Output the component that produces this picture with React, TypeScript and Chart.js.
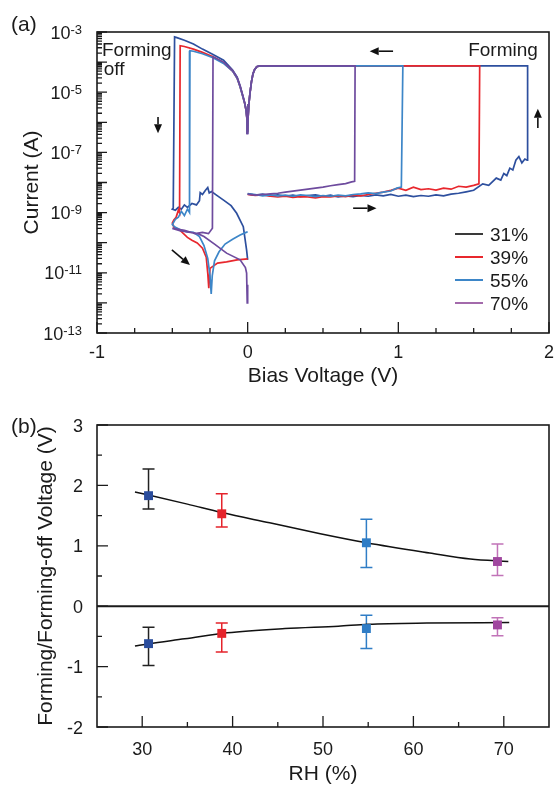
import React, { useEffect, useRef } from "react";
import { Chart, registerables } from "chart.js";

Chart.register(...registerables);

const FONT = "'Liberation Sans', Arial, Helvetica, sans-serif";
const INK = "#1b1b1b";

// ---------------- Panel (a): I–V sweeps ----------------
const humidityLabels = ["31%", "39%", "55%", "70%"];
const curveColors = ["#2d4f9e", "#e8272d", "#3d86c8", "#6e4b9e"];
const legendColors = ["#3a3a3a", "#e8272d", "#3d86c8", "#a36aab"];
const drawOrder = [3, 2, 1, 0];

const v31 = [
  0, 0.05, 0.1, 0.15, 0.2, 0.25, 0.3, 0.35, 0.4, 0.45, 0.5, 0.55, 0.6, 0.65, 0.7, 0.75, 0.8, 0.85, 0.9, 0.95,
  1.0, 1.05, 1.1, 1.15, 1.2, 1.25, 1.3, 1.35, 1.4, 1.45, 1.5, 1.56, 1.6, 1.65, 1.68, 1.7, 1.72, 1.74, 1.76, 1.78,
  1.8, 1.82, 1.84, 1.855,
  1.858, 1.2, 0.6, 0.08, 0.06, 0.045, 0.035, 0.025, 0.015, 0.008, 0.003, 0.0, -0.004, -0.01, -0.02, -0.03, -0.05,
  -0.07, -0.1, -0.16, -0.23, -0.3, -0.36, -0.42, -0.47, -0.485,
  -0.494, -0.5, -0.48, -0.46, -0.44, -0.42, -0.4, -0.37, -0.34, -0.32, -0.315, -0.3, -0.28, -0.265, -0.255, -0.24,
  -0.2, -0.16, -0.11, -0.073, -0.029, -0.007, 0.0,
];
const i31 = [
  4.2e-9, 3.8e-9, 4.1e-9, 3.6e-9, 3.9e-9, 3.5e-9, 3.8e-9, 3.4e-9, 3.7e-9, 3.9e-9, 3.5e-9, 3.8e-9, 3.3e-9, 3.6e-9,
  3.4e-9, 3.7e-9, 3.5e-9, 3.9e-9, 3.6e-9, 4.0e-9, 3.5e-9, 3.8e-9, 3.4e-9, 3.7e-9, 3.5e-9, 3.9e-9, 3.6e-9, 4.1e-9,
  4.4e-9, 4.9e-9, 5.5e-9, 9.0e-9, 8.0e-9, 1.4e-8, 1.2e-8, 2.0e-8, 1.7e-8, 3.0e-8, 2.6e-8, 5.5e-8, 7.3e-8, 4.5e-8,
  6.0e-8, 5.5e-8,
  7.5e-5, 7.5e-5, 7.5e-5, 7.5e-5, 7.0e-5, 5.5e-5, 4.0e-5, 2.2e-5, 9.0e-6, 4.0e-6, 1.5e-6, 4.4e-7, 1.2e-6, 2.5e-6,
  4.5e-6, 7.0e-6, 1.6e-5, 3.2e-5, 5.5e-5, 1.15e-4, 1.8e-4, 2.7e-4, 4.0e-4, 5.3e-4, 6.5e-4, 6.9e-4,
  1.4e-9, 1.3e-9, 1.2e-9, 1.5e-9, 1.3e-9, 1.8e-9, 1.5e-9, 2.0e-9, 1.8e-9, 2.5e-9, 4.6e-9, 4.0e-9, 5.5e-9, 6.8e-9,
  4.5e-9, 5.0e-9, 3.6e-9, 2.6e-9, 1.7e-9, 9.5e-10, 3.4e-10, 5.7e-11, 2.7e-11,
];

const v39 = [
  0, 0.05, 0.1, 0.15, 0.2, 0.25, 0.3, 0.35, 0.4, 0.45, 0.5, 0.55, 0.6, 0.65, 0.7, 0.75, 0.8, 0.85, 0.9, 0.95,
  1.0, 1.05, 1.1, 1.15, 1.2, 1.25, 1.3, 1.35, 1.4, 1.45, 1.5, 1.535,
  1.54, 1.0, 0.5, 0.08, 0.06, 0.045, 0.035, 0.025, 0.015, 0.008, 0.003, 0.0, -0.004, -0.01, -0.02, -0.03, -0.05,
  -0.07, -0.1, -0.16, -0.23, -0.3, -0.36, -0.42, -0.448,
  -0.452, -0.46, -0.475, -0.49, -0.5, -0.49, -0.45, -0.4, -0.37, -0.335, -0.3, -0.275, -0.265, -0.258, -0.25,
  -0.2, -0.14, -0.07, 0.0,
];
const i39 = [
  4.0e-9, 3.7e-9, 3.9e-9, 3.5e-9, 3.3e-9, 3.5e-9, 3.2e-9, 3.4e-9, 3.3e-9, 3.1e-9, 3.4e-9, 3.3e-9, 3.6e-9, 3.4e-9,
  3.8e-9, 3.6e-9, 4.0e-9, 4.4e-9, 4.8e-9, 5.5e-9, 6.5e-9, 5.5e-9, 7.0e-9, 5.8e-9, 6.2e-9, 5.6e-9, 6.5e-9, 6.0e-9,
  7.5e-9, 7.0e-9, 8.0e-9, 9.0e-9,
  7.5e-5, 7.5e-5, 7.5e-5, 7.5e-5, 7.0e-5, 5.5e-5, 4.0e-5, 2.2e-5, 9.0e-6, 4.0e-6, 1.5e-6, 5.0e-7, 1.2e-6, 2.4e-6,
  4.3e-6, 6.5e-6, 1.5e-5, 2.9e-5, 5.0e-5, 9.5e-5, 1.5e-4, 2.1e-4, 2.7e-4, 3.3e-4, 3.5e-4,
  9.8e-10, 1.2e-9, 7.0e-10, 5.7e-10, 4.5e-10, 3.3e-10, 2.6e-10, 1.5e-10, 1.2e-10, 9.8e-11, 6.6e-11, 3.3e-11,
  9.8e-12, 3.1e-12, 1.4e-11, 2.1e-11, 2.3e-11, 2.7e-11, 2.9e-11,
];

const v55 = [
  0, 0.05, 0.1, 0.15, 0.2, 0.25, 0.3, 0.35, 0.4, 0.45, 0.5, 0.55, 0.6, 0.65, 0.7, 0.75, 0.8, 0.85, 0.9, 0.95,
  0.99, 1.02,
  1.03, 0.5, 0.08, 0.06, 0.045, 0.035, 0.025, 0.015, 0.008, 0.003, 0.0, -0.004, -0.01, -0.02, -0.03, -0.05, -0.07,
  -0.1, -0.16, -0.23, -0.3, -0.36, -0.383,
  -0.386, -0.4, -0.42, -0.44, -0.46, -0.48, -0.5, -0.483, -0.44, -0.4, -0.36, -0.32, -0.29, -0.265, -0.25, -0.242,
  -0.235, -0.22, -0.19, -0.15, -0.1, -0.05, -0.01, 0.0,
];
const i55 = [
  4.3e-9, 4.0e-9, 3.6e-9, 3.9e-9, 3.6e-9, 3.8e-9, 3.5e-9, 3.9e-9, 3.7e-9, 3.4e-9, 3.7e-9, 3.5e-9, 3.8e-9, 3.6e-9,
  4.0e-9, 4.2e-9, 4.5e-9, 4.3e-9, 4.8e-9, 5.2e-9, 6.5e-9, 7.0e-9,
  7.5e-5, 7.5e-5, 7.5e-5, 7.0e-5, 5.5e-5, 4.0e-5, 2.2e-5, 9.0e-6, 4.0e-6, 1.5e-6, 5.0e-7, 1.2e-6, 2.4e-6, 4.3e-6,
  6.5e-6, 1.5e-5, 2.9e-5, 5.0e-5, 9.0e-5, 1.4e-4, 1.9e-4, 2.3e-4, 2.4e-4,
  1.0e-9, 1.3e-9, 8.0e-10, 1.1e-9, 7.0e-10, 6.0e-10, 4.0e-10, 3.3e-10, 2.6e-10, 2.3e-10, 2.2e-10, 1.6e-10, 8.0e-11,
  3.0e-11, 8.0e-12, 2.0e-12, 8.0e-12, 2.5e-11, 5.0e-11, 9.0e-11, 1.3e-10, 1.8e-10, 2.2e-10, 2.3e-10,
];

const v70 = [
  0, 0.05, 0.1, 0.15, 0.2, 0.25, 0.3, 0.35, 0.4, 0.45, 0.5, 0.55, 0.6, 0.65, 0.69, 0.71,
  0.713, 0.3, 0.08, 0.06, 0.045, 0.035, 0.025, 0.015, 0.008, 0.003, 0.0, -0.004, -0.01, -0.02, -0.03, -0.05, -0.07,
  -0.1, -0.16, -0.23,
  -0.234, -0.26, -0.3, -0.35, -0.42, -0.5, -0.45, -0.38, -0.33, -0.29, -0.22, -0.14, -0.05, -0.015, -0.007, -0.003,
  0.0,
];
const i70 = [
  4.1e-9, 3.8e-9, 4.0e-9, 4.2e-9, 4.4e-9, 4.8e-9, 5.2e-9, 5.6e-9, 6.0e-9, 6.5e-9, 7.0e-9, 7.8e-9, 8.5e-9, 9.2e-9,
  1.05e-8, 1.1e-8,
  7.5e-5, 7.5e-5, 7.5e-5, 7.0e-5, 5.5e-5, 4.0e-5, 2.2e-5, 9.0e-6, 4.0e-6, 1.5e-6, 4.2e-7, 1.2e-6, 2.5e-6, 4.5e-6,
  7.0e-6, 1.6e-5, 3.1e-5, 5.2e-5, 1.0e-4, 1.5e-4,
  3.0e-10, 2.0e-10, 2.2e-10, 2.0e-10, 2.6e-10, 3.0e-10, 2.5e-10, 2.2e-10, 2.0e-10, 1.6e-10, 9.0e-11, 4.5e-11,
  2.7e-11, 1.5e-11, 9.8e-12, 1.0e-12, 4.0e-12,
];

const xRangeA = [-1, 2];
const xMajorTicksA = [-1, 0, 1, 2];
const xMinorTicksA = [-0.75, -0.5, -0.25, 0.25, 0.5, 0.75, 1.25, 1.5, 1.75];
const yExpRangeA = [-13, -3];
const yLabelExpsA = [-13, -11, -9, -7, -5, -3];

// arrows (bias V, current A)
const arrowsA = [
  { from: [-0.595, 1.5e-6], to: [-0.595, 4.3e-7] },
  { from: [0.965, 2.3e-4], to: [0.81, 2.3e-4] },
  { from: [1.926, 6.5e-7], to: [1.926, 2.8e-6] },
  { from: [0.7, 1.4e-9], to: [0.855, 1.4e-9] },
  { from: [-0.503, 5.8e-11], to: [-0.383, 1.8e-11] },
];
const notesA = [
  { text: "Forming", v: 1.926, i: 1.6e-4, align: "right" },
  { text: "Forming", v: -0.967, i: 1.6e-4, align: "left" },
  { text: "off", v: -0.955, i: 3.6e-5, align: "left" },
];

// ---------------- Panel (b): forming voltages vs RH ----------------
const rhValues = [30.7, 38.8, 54.8, 69.3];
const formingV = [1.83, 1.53, 1.05, 0.74];
const formingTop = [2.27, 1.86, 1.44, 1.03];
const formingBottom = [1.61, 1.31, 0.64, 0.51];
const formingOffV = [-0.62, -0.45, -0.37, -0.31];
const formingOffTop = [-0.35, -0.28, -0.15, -0.19];
const formingOffBottom = [-0.98, -0.76, -0.7, -0.49];
const markerColors = ["#2a4c9c", "#e5232b", "#2f7dc6", "#a0479f"];
const errorColors = ["#222222", "#e5232b", "#2f7dc6", "#c173b8"];

const fitFormingX = [29.2, 30.7, 35, 38.8, 44.1, 49.7, 54.8, 61.8, 66.3, 70.5];
const fitFormingY = [1.89, 1.84, 1.69, 1.55, 1.38, 1.2, 1.05, 0.88, 0.78, 0.74];
const fitOffX = [29.2, 30.7, 34.7, 39.4, 45.8, 51.7, 55, 61.5, 70.6];
const fitOffY = [-0.66, -0.62, -0.54, -0.44, -0.37, -0.33, -0.3, -0.28, -0.27];

const xRangeB = [25, 75];
const xMajorTicksB = [30, 40, 50, 60, 70];
const xMinorTicksB = [35, 45, 55, 65];
const yRangeB = [-2, 3];
const yMajorTicksB = [-2, -1, 0, 1, 2, 3];
const yMinorTicksB = [-1.5, -0.5, 0.5, 1.5, 2.5];

// ---------------- drawing helpers ----------------
function font(size: number) {
  return `${size}px ${FONT}`;
}

function drawArrow(ctx: CanvasRenderingContext2D, x1: number, y1: number, x2: number, y2: number) {
  const ang = Math.atan2(y2 - y1, x2 - x1);
  const head = 9;
  const half = 4;
  const bx = x2 - head * Math.cos(ang);
  const by = y2 - head * Math.sin(ang);
  ctx.beginPath();
  ctx.moveTo(x1, y1);
  ctx.lineTo(bx, by);
  ctx.stroke();
  ctx.beginPath();
  ctx.moveTo(x2, y2);
  ctx.lineTo(bx + half * Math.sin(ang), by - half * Math.cos(ang));
  ctx.lineTo(bx - half * Math.sin(ang), by + half * Math.cos(ang));
  ctx.closePath();
  ctx.fill();
}

const panelAPlugin = {
  id: "panelA",
  afterDatasetsDraw(chart: any) {
    const { ctx, chartArea: a, scales } = chart;
    const xs = scales.x;
    const ys = scales.y;
    ctx.save();
    ctx.strokeStyle = INK;
    ctx.fillStyle = INK;
    ctx.lineWidth = 1.6;
    ctx.strokeRect(a.left, a.top, a.right - a.left, a.bottom - a.top);

    // inward ticks
    ctx.lineWidth = 1.3;
    ctx.beginPath();
    xMinorTicksA.forEach((v) => {
      const px = xs.getPixelForValue(v);
      ctx.moveTo(px, a.bottom);
      ctx.lineTo(px, a.bottom - 5);
    });
    xMajorTicksA.forEach((v) => {
      const px = xs.getPixelForValue(v);
      ctx.moveTo(px, a.bottom);
      ctx.lineTo(px, a.bottom - 11);
    });
    for (let e = yExpRangeA[0]; e <= yExpRangeA[1]; e++) {
      for (let s = 1; s <= 9; s++) {
        if (e === yExpRangeA[1] && s > 1) break;
        const py = ys.getPixelForValue(s * Math.pow(10, e));
        const len = s === 1 ? 10 : 5;
        ctx.moveTo(a.left, py);
        ctx.lineTo(a.left + len, py);
      }
    }
    ctx.stroke();

    // x tick labels
    ctx.font = font(18);
    ctx.textAlign = "center";
    ctx.textBaseline = "alphabetic";
    xMajorTicksA.forEach((v) => {
      ctx.fillText(String(v), xs.getPixelForValue(v), a.bottom + 25);
    });

    // y tick labels 10^n
    yLabelExpsA.forEach((e) => {
      const py = ys.getPixelForValue(Math.pow(10, e));
      const expText = String(e);
      ctx.font = font(13);
      const we = ctx.measureText(expText).width;
      ctx.font = font(18);
      const wm = ctx.measureText("10").width;
      const right = a.left - 15;
      ctx.textAlign = "left";
      ctx.fillText("10", right - we - wm, py + 6.5);
      ctx.font = font(13);
      ctx.fillText(expText, right - we, py + 1.5);
    });

    // axis titles
    ctx.font = font(21);
    ctx.textAlign = "center";
    ctx.fillText("Bias Voltage (V)", (a.left + a.right) / 2, a.bottom + 49);
    ctx.save();
    ctx.translate(37.5, (a.top + a.bottom) / 2);
    ctx.rotate(-Math.PI / 2);
    ctx.fillText("Current (A)", 0, 0);
    ctx.restore();

    // panel label
    ctx.textAlign = "left";
    ctx.fillText("(a)", 11, 31);

    // legend
    humidityLabels.forEach((lab, k) => {
      const cy = a.bottom - 99 + k * 23;
      ctx.strokeStyle = legendColors[k];
      ctx.lineWidth = 2;
      ctx.beginPath();
      ctx.moveTo(a.right - 94, cy);
      ctx.lineTo(a.right - 66, cy);
      ctx.stroke();
      ctx.fillStyle = INK;
      ctx.font = font(19);
      ctx.textAlign = "left";
      ctx.fillText(lab, a.right - 59, cy + 7);
    });

    // arrows
    ctx.strokeStyle = "#111";
    ctx.fillStyle = "#111";
    ctx.lineWidth = 1.6;
    arrowsA.forEach((ar) => {
      drawArrow(
        ctx,
        xs.getPixelForValue(ar.from[0]),
        ys.getPixelForValue(ar.from[1]),
        xs.getPixelForValue(ar.to[0]),
        ys.getPixelForValue(ar.to[1])
      );
    });

    // notes
    ctx.fillStyle = INK;
    ctx.font = font(19);
    notesA.forEach((n) => {
      ctx.textAlign = n.align as CanvasTextAlign;
      ctx.fillText(n.text, xs.getPixelForValue(n.v), ys.getPixelForValue(n.i));
    });
    ctx.restore();
  },
};

const panelBPlugin = {
  id: "panelB",
  beforeDatasetsDraw(chart: any) {
    const { ctx, scales } = chart;
    const xs = scales.x;
    const ys = scales.y;
    ctx.save();
    ctx.lineWidth = 1.5;
    const bars = [
      { v: formingV, top: formingTop, bottom: formingBottom, first: "#222222" },
      { v: formingOffV, top: formingOffTop, bottom: formingOffBottom, first: "#222222" },
    ];
    bars.forEach((set) => {
      rhValues.forEach((rh, k) => {
        const px = xs.getPixelForValue(rh);
        const pt = ys.getPixelForValue(set.top[k]);
        const pb = ys.getPixelForValue(set.bottom[k]);
        ctx.strokeStyle = errorColors[k];
        ctx.beginPath();
        ctx.moveTo(px, pt);
        ctx.lineTo(px, pb);
        ctx.moveTo(px - 6, pt);
        ctx.lineTo(px + 6, pt);
        ctx.moveTo(px - 6, pb);
        ctx.lineTo(px + 6, pb);
        ctx.stroke();
      });
    });
    ctx.restore();
  },
  afterDatasetsDraw(chart: any) {
    const { ctx, chartArea: a, scales } = chart;
    const xs = scales.x;
    const ys = scales.y;
    ctx.save();
    ctx.strokeStyle = INK;
    ctx.fillStyle = INK;

    // zero line
    ctx.lineWidth = 2;
    const y0 = ys.getPixelForValue(0);
    ctx.beginPath();
    ctx.moveTo(a.left, y0);
    ctx.lineTo(a.right, y0);
    ctx.stroke();

    ctx.lineWidth = 1.6;
    ctx.strokeRect(a.left, a.top, a.right - a.left, a.bottom - a.top);

    ctx.lineWidth = 1.3;
    ctx.beginPath();
    xMinorTicksB.forEach((v) => {
      const px = xs.getPixelForValue(v);
      ctx.moveTo(px, a.bottom);
      ctx.lineTo(px, a.bottom - 5);
    });
    xMajorTicksB.forEach((v) => {
      const px = xs.getPixelForValue(v);
      ctx.moveTo(px, a.bottom);
      ctx.lineTo(px, a.bottom - 11);
    });
    yMinorTicksB.forEach((v) => {
      const py = ys.getPixelForValue(v);
      ctx.moveTo(a.left, py);
      ctx.lineTo(a.left + 5, py);
    });
    yMajorTicksB.forEach((v) => {
      const py = ys.getPixelForValue(v);
      ctx.moveTo(a.left, py);
      ctx.lineTo(a.left + 11, py);
    });
    ctx.stroke();

    ctx.font = font(18);
    ctx.textAlign = "center";
    ctx.textBaseline = "alphabetic";
    xMajorTicksB.forEach((v) => {
      ctx.fillText(String(v), xs.getPixelForValue(v), a.bottom + 28);
    });
    ctx.textAlign = "right";
    yMajorTicksB.forEach((v) => {
      ctx.fillText(String(v), a.left - 14, ys.getPixelForValue(v) + 6.5);
    });

    ctx.font = font(21);
    ctx.textAlign = "center";
    ctx.fillText("RH (%)", (a.left + a.right) / 2, a.bottom + 53);
    ctx.save();
    ctx.translate(52, (a.top + a.bottom) / 2);
    ctx.rotate(-Math.PI / 2);
    ctx.fillText("Forming/Forming-off Voltage (V)", 0, 0);
    ctx.restore();

    ctx.textAlign = "left";
    ctx.fillText("(b)", 11, 43);
    ctx.restore();
  },
};

function configA(): any {
  const curves = [
    { v: v31, i: i31 },
    { v: v39, i: i39 },
    { v: v55, i: i55 },
    { v: v70, i: i70 },
  ];
  return {
    type: "scatter",
    data: {
      datasets: curves.map((c, k) => ({
        label: humidityLabels[k],
        data: c.v.map((v, j) => ({ x: v, y: c.i[j] })),
        showLine: true,
        borderColor: curveColors[k],
        backgroundColor: curveColors[k],
        borderWidth: 1.7,
        pointRadius: 0,
        tension: 0,
        order: drawOrder[k],
      })),
    },
    options: {
      animation: false,
      responsive: false,
      events: [],
      layout: { padding: { top: 32, right: 9, left: 0, bottom: 0 } },
      plugins: { legend: { display: false }, tooltip: { enabled: false }, title: { display: false } },
      scales: {
        x: {
          type: "linear",
          min: xRangeA[0],
          max: xRangeA[1],
          grid: { display: false },
          border: { display: false },
          ticks: { display: false },
          afterFit: (s: any) => {
            s.height = 57;
          },
        },
        y: {
          type: "logarithmic",
          min: Math.pow(10, yExpRangeA[0]),
          max: Math.pow(10, yExpRangeA[1]),
          grid: { display: false },
          border: { display: false },
          ticks: { display: false },
          afterFit: (s: any) => {
            s.width = 97;
          },
        },
      },
    },
    plugins: [panelAPlugin],
  };
}

function configB(): any {
  return {
    type: "scatter",
    data: {
      datasets: [
        {
          label: "Forming",
          data: rhValues.map((x, k) => ({ x, y: formingV[k] })),
          pointStyle: "rect",
          pointRadius: 6.3,
          pointBackgroundColor: markerColors,
          pointBorderColor: markerColors,
          pointBorderWidth: 0,
          showLine: false,
          order: 0,
        },
        {
          label: "Forming-off",
          data: rhValues.map((x, k) => ({ x, y: formingOffV[k] })),
          pointStyle: "rect",
          pointRadius: 6.3,
          pointBackgroundColor: markerColors,
          pointBorderColor: markerColors,
          pointBorderWidth: 0,
          showLine: false,
          order: 0,
        },
        {
          label: "Forming fit",
          data: fitFormingX.map((x, k) => ({ x, y: fitFormingY[k] })),
          showLine: true,
          borderColor: "#111",
          borderWidth: 1.5,
          pointRadius: 0,
          cubicInterpolationMode: "monotone",
          order: 1,
        },
        {
          label: "Forming-off fit",
          data: fitOffX.map((x, k) => ({ x, y: fitOffY[k] })),
          showLine: true,
          borderColor: "#111",
          borderWidth: 1.5,
          pointRadius: 0,
          cubicInterpolationMode: "monotone",
          order: 1,
        },
      ],
    },
    options: {
      animation: false,
      responsive: false,
      events: [],
      layout: { padding: { top: 35, right: 9, left: 0, bottom: 0 } },
      plugins: { legend: { display: false }, tooltip: { enabled: false }, title: { display: false } },
      scales: {
        x: {
          type: "linear",
          min: xRangeB[0],
          max: xRangeB[1],
          grid: { display: false },
          border: { display: false },
          ticks: { display: false },
          afterFit: (s: any) => {
            s.height = 60;
          },
        },
        y: {
          type: "linear",
          min: yRangeB[0],
          max: yRangeB[1],
          grid: { display: false },
          border: { display: false },
          ticks: { display: false },
          afterFit: (s: any) => {
            s.width = 97;
          },
        },
      },
    },
    plugins: [panelBPlugin],
  };
}

function ChartCanvas({ make, top, height }: { make: () => any; top: number; height: number }) {
  const ref = useRef<HTMLCanvasElement>(null);
  useEffect(() => {
    const chart = new Chart(ref.current as HTMLCanvasElement, make());
    return () => chart.destroy();
  }, []);
  return (
    <canvas
      ref={ref}
      width={558}
      height={height}
      style={{ position: "absolute", left: 0, top, width: 558, height, display: "block" }}
    />
  );
}

export default function App() {
  return (
    <div style={{ position: "absolute", left: 0, top: 0, width: 558, height: 787, background: "#fff" }}>
      <ChartCanvas make={configA} top={0} height={390} />
      <ChartCanvas make={configB} top={390} height={397} />
    </div>
  );
}
